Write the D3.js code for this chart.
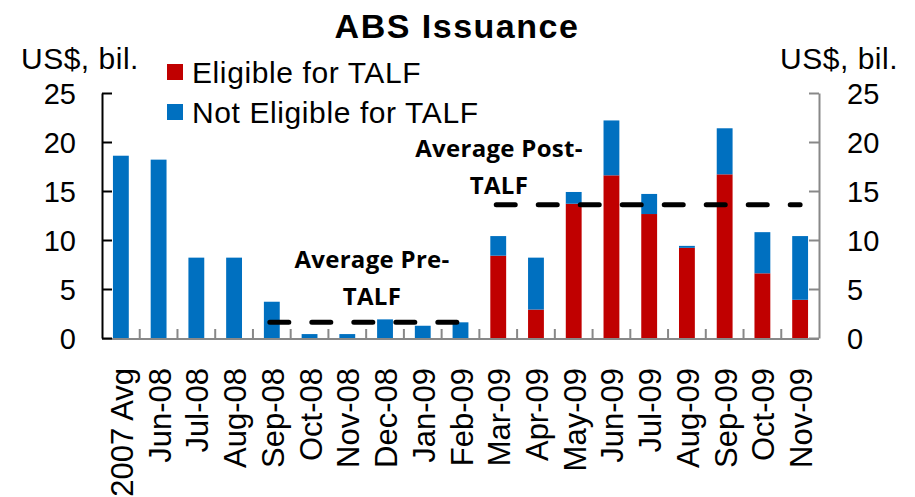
<!DOCTYPE html>
<html>
<head>
<meta charset="utf-8">
<script src="https://cdn.jsdelivr.net/npm/d3@7"></script>
<style>
  body { margin: 0; background: #fff; }
  svg text { font-family: Arial, "Liberation Sans", sans-serif; }
</style>
</head>
<body>
<div id="chart"></div>
<script>
// data
var months = ["2007 Avg", "Jun-08", "Jul-08", "Aug-08", "Sep-08", "Oct-08", "Nov-08", "Dec-08", "Jan-09", "Feb-09",
              "Mar-09", "Apr-09", "May-09", "Jun-09", "Jul-09", "Aug-09", "Sep-09", "Oct-09", "Nov-09"];
var eligible    = [0, 0, 0, 0, 0, 0, 0, 0, 0, 0, 8.4, 2.9, 13.7, 16.6, 12.65, 9.2, 16.7, 6.6, 3.9];
var notEligible = [18.6, 18.2, 8.2, 8.2, 3.7, 0.4, 0.4, 1.9, 1.25, 1.6, 2.0, 5.3, 1.2, 5.6, 2.05, 0.2, 4.7, 4.2, 6.5];
var yTicks = [0, 5, 10, 15, 20, 25];
var avgPre = 1.6, avgPost = 13.6;
var seriesNames = ["Eligible for TALF", "Not Eligible for TALF"];
var colors = ["#C00000", "#0070C0"];

var W = 915, H = 497;
var plot = {left: 102, right: 819, top: 93, bottom: 338};

var svg = d3.select("#chart").append("svg")
    .attr("width", W)
    .attr("height", H);

var x = d3.scaleBand()
    .domain(months)
    .range([plot.left, plot.right])
    .paddingInner(0.58)
    .paddingOuter(0.29);

var y = d3.scaleLinear()
    .domain([0, 25])
    .range([plot.bottom, plot.top]);

// stack the two series
var rows = months.map(function(m, i) {
  return { month: m, "Eligible for TALF": eligible[i], "Not Eligible for TALF": notEligible[i] };
});
var stacked = d3.stack().keys(seriesNames)(rows);

svg.append("g")
  .selectAll("g")
  .data(stacked)
  .enter().append("g")
    .attr("fill", function(d, i) { return colors[i]; })
  .selectAll("rect")
  .data(function(d) { return d; })
  .enter().append("rect")
    .attr("x", function(d) { return x(d.data.month); })
    .attr("y", function(d) { return y(d[1]); })
    .attr("height", function(d) { return y(d[0]) - y(d[1]); })
    .attr("width", x.bandwidth());

// bottom axis (gray, ticks between categories)
var bx = svg.append("g");
bx.append("line")
  .attr("x1", plot.left).attr("x2", plot.right)
  .attr("y1", plot.bottom + 1).attr("y2", plot.bottom + 1)
  .attr("stroke", "#888").attr("stroke-width", 2);
var step = x.step();
d3.range(1, months.length).forEach(function(i) {
  var xx = x(months[i]) - (step - x.bandwidth()) / 2;
  bx.append("line")
    .attr("x1", xx).attr("x2", xx)
    .attr("y1", plot.bottom).attr("y2", plot.bottom - 9)
    .attr("stroke", "#888").attr("stroke-width", 2);
});

// left axis
var yl = svg.append("g")
  .attr("transform", "translate(" + plot.left + ",0)")
  .call(d3.axisLeft(y).tickValues(yTicks).tickSize(-10).tickSizeOuter(0).tickPadding(26));
yl.select(".domain").attr("stroke", "#000").attr("stroke-width", 2);
yl.selectAll(".tick line").attr("stroke", "#000").attr("stroke-width", 2);
yl.selectAll("text").style("font-size", "29px").attr("fill", "#000").attr("dy", "0.36em");

// right axis
var yr = svg.append("g")
  .attr("transform", "translate(" + plot.right + ",0)")
  .call(d3.axisRight(y).tickValues(yTicks).tickSize(-10).tickSizeOuter(0).tickPadding(28));
yr.select(".domain").attr("stroke", "#888").attr("stroke-width", 2);
yr.selectAll(".tick line").attr("stroke", "#888").attr("stroke-width", 2);
yr.selectAll("text").style("font-size", "29px").attr("fill", "#000").attr("dy", "0.36em");

// x labels, rotated
svg.append("g")
  .selectAll("text")
  .data(months)
  .enter().append("text")
    .attr("transform", function(d) {
      return "translate(" + (x(d) + x.bandwidth() / 2 + 12) + "," + 368 + ") rotate(-90)";
    })
    .attr("text-anchor", "end")
    .style("font-size", "31px")
    .text(function(d) { return d; });

// average lines
function avgLine(from, to, v) {
  svg.append("line")
    .attr("x1", x(from) + x.bandwidth() / 2 - 2)
    .attr("x2", x(to) + x.bandwidth() / 2)
    .attr("y1", y(v)).attr("y2", y(v))
    .attr("stroke", "#000")
    .attr("stroke-width", 5)
    .attr("stroke-linecap", "round")
    .attr("stroke-dasharray", "19,23");
}
avgLine("Sep-08", "Feb-09", avgPre);
avgLine("Mar-09", "Nov-09", avgPost);

function note(cx, by, lines) {
  lines.forEach(function(t, i) {
    svg.append("text")
      .attr("x", cx).attr("y", by + i * 37)
      .attr("text-anchor", "middle")
      .style("font-family", "'Open Sans', Lato, sans-serif")
      .style("font-weight", "bold")
      .style("font-size", "24px")
      .style("letter-spacing", "0.3px")
      .text(t);
  });
}
note(372, 268, ["Average Pre-", "TALF"]);
note(499, 157, ["Average Post-", "TALF"]);

// title
svg.append("text")
  .attr("x", 457).attr("y", 38)
  .attr("text-anchor", "middle")
  .style("font-size", "34px")
  .style("font-weight", "bold")
  .style("letter-spacing", "1.5px")
  .text("ABS Issuance");

// unit labels
svg.append("text").attr("x", 21).attr("y", 69)
  .style("font-size", "30px").style("letter-spacing", "0.5px").text("US$, bil.");
svg.append("text").attr("x", 898).attr("y", 69)
  .attr("text-anchor", "end")
  .style("font-size", "30px").style("letter-spacing", "0.5px").text("US$, bil.");

// legend
var lg = svg.append("g");
seriesNames.forEach(function(s, i) {
  lg.append("rect")
    .attr("x", 167).attr("y", 64 + i * 40)
    .attr("width", 16).attr("height", 16)
    .attr("fill", colors[i]);
  lg.append("text")
    .attr("x", 192).attr("y", 83 + i * 40)
    .style("font-size", "30px")
    .style("letter-spacing", "0.6px")
    .text(s);
});
</script>
</body>
</html>
